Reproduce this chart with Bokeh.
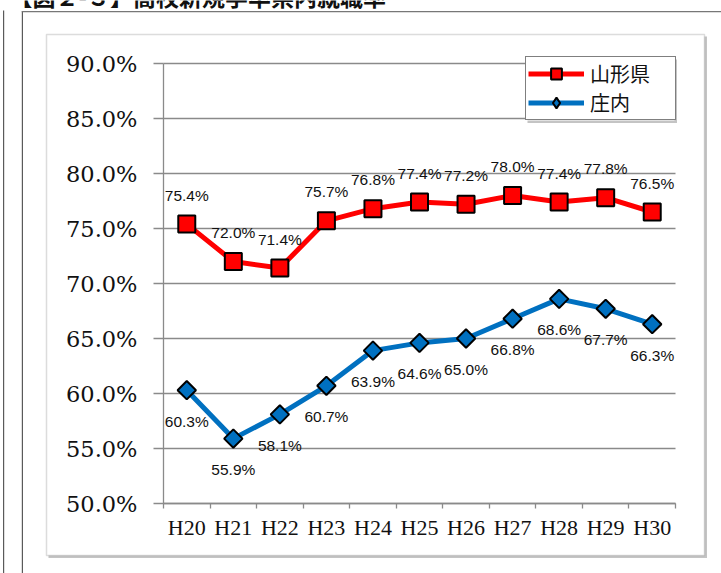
import math
from bokeh.plotting import figure
from bokeh.models import (ColumnDataSource, FixedTicker, PrintfTickFormatter, LabelSet,
                          PolyAnnotation, Label, Range1d, Legend, LegendItem)
from bokeh.core.properties import value
from bokeh.embed import file_html
from bokeh.resources import INLINE

# ---- data ----
years = ["H20", "H21", "H22", "H23", "H24", "H25", "H26", "H27", "H28", "H29", "H30"]
yamagata = [75.4, 72.0, 71.4, 75.7, 76.8, 77.4, 77.2, 78.0, 77.4, 77.8, 76.5]
shonai = [60.3, 55.9, 58.1, 60.7, 63.9, 64.6, 65.0, 66.8, 68.6, 67.7, 66.3]
y_ticks = [50, 55, 60, 65, 70, 75, 80, 85, 90]
series_names = ["山形県", "庄内"]
title_text = "【図２-３】高校新規学卒県内就職率"

RED = "#FF0000"
BLUE = "#0070C0"
GRID = "#8A8A8A"

# ---- layout (pixels of the page) ----
W, H = 721, 573
PL, PR, PT, PB = 163, 675, 63, 503          # plot area edges
n = len(years)
kx = (PR - PL) / n
ky = (PB - PT) / (y_ticks[-1] - y_ticks[0])
x_range = Range1d(0 - PL / kx, n + (W - PR) / kx)
y_range = Range1d(y_ticks[0] - (H - PB) / ky, y_ticks[-1] + PT / ky)

xc = [i + 0.5 for i in range(n)]
src_r = ColumnDataSource(dict(x=xc, y=yamagata, t=[f"{v:.1f}%" for v in yamagata]))
src_b = ColumnDataSource(dict(x=xc, y=shonai, t=[f"{v:.1f}%" for v in shonai]))

p = figure(width=W, height=H, output_backend="svg", toolbar_location=None, title=None,
           x_range=x_range, y_range=y_range,
           min_border_left=0, min_border_right=0, min_border_top=0, min_border_bottom=0)
p.outline_line_color = None
p.background_fill_color = "white"
p.border_fill_color = "white"

def cpoly(xs, ys, **kw):
    return PolyAnnotation(xs=xs, ys=ys, xs_units="canvas", ys_units="canvas", level="underlay", **kw)

dark = dict(fill_color="#5A5A5A", fill_alpha=1, line_color=None)
# page frame lines
p.add_layout(cpoly([2.5, 3.7, 3.7, 2.5], [10, 10, H, H], **dark))
p.add_layout(cpoly([21.3, 22.5, 22.5, 21.3], [10.5, 10.5, H, H], **dark))
p.add_layout(cpoly([21.3, W, W, 21.3], [10.5, 10.5, 11.7, 11.7], fill_color="#777777", fill_alpha=1, line_color=None))
# chart box with shadow
sh = dict(fill_color="#C4C4C4", fill_alpha=1, line_color=None)
p.add_layout(cpoly([704, 706.5, 706.5, 704], [36, 36, 557.5, 557.5], **sh))
p.add_layout(cpoly([48, 706.5, 706.5, 48], [555, 555, 557.5, 557.5], **sh))
p.add_layout(cpoly([46, 704, 704, 46], [34, 34, 555, 555], fill_alpha=0, line_color="#8C8C8C", line_width=1.5))
# title (only its lower part lies inside the page, as in the original)
p.add_layout(Label(x=9, y=-5, x_units="canvas", y_units="canvas", text=title_text,
                   text_font="Noto Sans CJK JP", text_font_size="23px", text_color="#111111",
                   text_font_style="bold", text_baseline="alphabetic", text_align="left"))

# axes at fixed locations
p.xaxis.fixed_location = y_ticks[0]
p.xaxis.bounds = (0, n)
p.xaxis.ticker = FixedTicker(ticks=xc, minor_ticks=list(range(n + 1)))
p.xaxis.major_label_overrides = {x: y for x, y in zip(xc, years)}
p.xaxis.major_tick_out = 0
p.xaxis.major_tick_in = 0
p.xaxis.minor_tick_out = 5
p.xaxis.minor_tick_in = 0
p.xaxis.minor_tick_line_color = GRID
p.xaxis.minor_tick_line_width = 1.3
p.xaxis.axis_line_color = GRID
p.xaxis.axis_line_width = 1.3
p.xaxis.major_label_text_font = "Liberation Serif"
p.xaxis.major_label_text_font_size = "22px"
p.xaxis.major_label_text_color = "#111111"
p.xaxis.major_label_standoff = 6

p.yaxis.fixed_location = 0
p.yaxis.bounds = (y_ticks[0], y_ticks[-1])
p.yaxis.ticker = FixedTicker(ticks=y_ticks, minor_ticks=[])
p.yaxis.formatter = PrintfTickFormatter(format="%.1f%%")
p.yaxis.major_tick_out = 10
p.yaxis.major_tick_in = 0
p.yaxis.major_tick_line_color = GRID
p.yaxis.major_tick_line_width = 1.3
p.yaxis.axis_line_color = GRID
p.yaxis.axis_line_width = 1.3
p.yaxis.major_label_text_font = "DejaVu Serif"
p.yaxis.major_label_text_font_size = "22.5px"
p.yaxis.major_label_text_color = "#111111"
p.yaxis.major_label_standoff = 16

p.xgrid.visible = False
yg = p.ygrid[0]
yg.ticker = FixedTicker(ticks=y_ticks, minor_ticks=[])
yg.grid_line_color = GRID
yg.grid_line_width = 1.3
if "cross_bounds" in yg.properties():
    yg.cross_bounds = (0, n)
else:
    yg.visible = False
    p.segment(x0=0, x1=n, y0=y_ticks, y1=y_ticks, line_color=GRID, line_width=1.3, level="underlay")

# legend geometry (page pixels)
LG_L, LG_T, LG_W, LG_H = 525, 57, 149, 63
p.add_layout(cpoly([LG_L + LG_W, LG_L + LG_W + 2.5, LG_L + LG_W + 2.5, LG_L + LG_W],
                   [LG_T + 2, LG_T + 2, LG_T + LG_H + 2.5, LG_T + LG_H + 2.5], **sh))
p.add_layout(cpoly([LG_L + 2, LG_L + LG_W + 2.5, LG_L + LG_W + 2.5, LG_L + 2],
                   [LG_T + LG_H, LG_T + LG_H, LG_T + LG_H + 2.5, LG_T + LG_H + 2.5], **sh))

# series
rl = p.line("x", "y", source=src_r, line_color=RED, line_width=5)
rm = p.scatter("x", "y", source=src_r, marker="square", size=17, fill_color=RED,
               line_color="black", line_width=2)
bl = p.line("x", "y", source=src_b, line_color=BLUE, line_width=5)
# diamond used for the legend swatch (the legend does not rotate markers); it sits
# hidden beneath the first rotated-square marker of the series
bm_leg = p.scatter(x=xc[:1], y=shonai[:1], marker="diamond", size=17,
                   fill_color=BLUE, line_color="black", line_width=2)
bm = p.scatter("x", "y", source=src_b, marker="square", angle=math.pi / 4, size=13,
               fill_color=BLUE, line_color="black", line_width=2)

lab_style = dict(text_font=value("Liberation Sans"), text_font_size="15.5px", text_color="#111111",
                 text_align="center", text_baseline="middle")
p.add_layout(LabelSet(x="x", y="y", text="t", source=src_r, y_offset=29, **lab_style))
p.add_layout(LabelSet(x="x", y="y", text="t", source=src_b, y_offset=-31, **lab_style))

legend = Legend(items=[LegendItem(label=series_names[0], renderers=[rl, rm]),
                       LegendItem(label=series_names[1], renderers=[bl, bm_leg])],
                location=(LG_L, H - (LG_T + LG_H)), orientation="vertical",
                label_text_font="Noto Sans CJK JP", label_text_font_size="20px",
                label_text_color="#111111", label_text_baseline="middle",
                glyph_width=56, glyph_height=27, label_height=27, label_width=83,
                label_standoff=6, padding=2, spacing=0, margin=0,
                border_line_color="black", border_line_width=1.5,
                background_fill_color="white", background_fill_alpha=1)
p.add_layout(legend, "center")

open("out.html", "w").write(file_html(p, INLINE))
